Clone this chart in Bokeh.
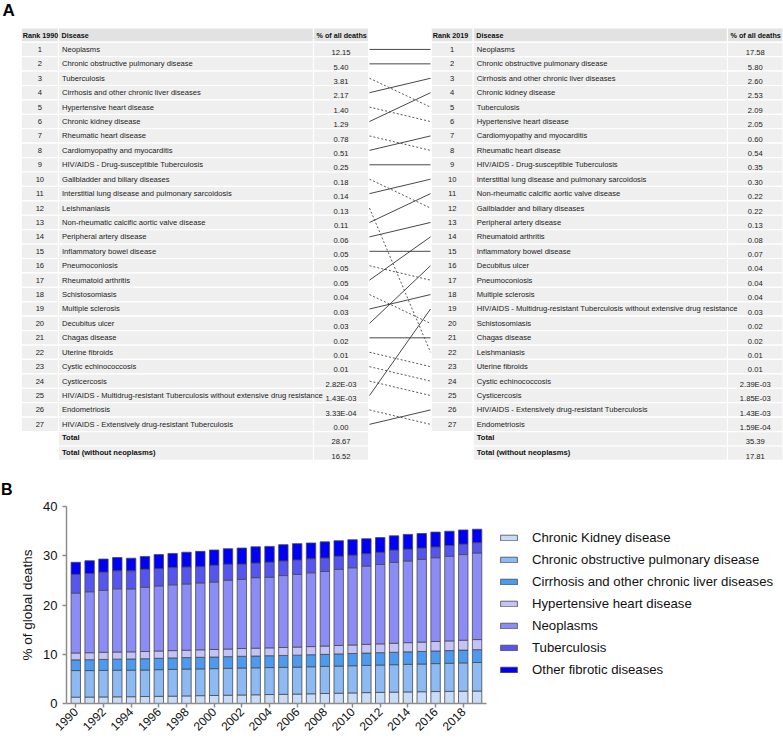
import math
from bokeh.plotting import figure
from bokeh.models import Range1d, ColumnDataSource, Legend, LegendItem, FixedTicker
from bokeh.core.properties import value
from bokeh.embed import file_html
from bokeh.resources import INLINE

FONT = "Liberation Sans"

# ------------------------------------------------------------------ Panel A data
header_1990 = ["Rank 1990", "Disease", "% of all deaths"]
header_2019 = ["Rank 2019", "Disease", "% of all deaths"]

diseases_1990 = [
    "Neoplasms",
    "Chronic obstructive pulmonary disease",
    "Tuberculosis",
    "Cirrhosis and other chronic liver diseases",
    "Hypertensive heart disease",
    "Chronic kidney disease",
    "Rheumatic heart disease",
    "Cardiomyopathy and myocarditis",
    "HIV/AIDS - Drug-susceptible Tuberculosis",
    "Gallbladder and biliary diseases",
    "Interstitial lung disease and pulmonary sarcoidosis",
    "Leishmaniasis",
    "Non-rheumatic calcific aortic valve disease",
    "Peripheral artery disease",
    "Inflammatory bowel disease",
    "Pneumoconiosis",
    "Rheumatoid arthritis",
    "Schistosomiasis",
    "Multiple sclerosis",
    "Decubitus ulcer",
    "Chagas disease",
    "Uterine fibroids",
    "Cystic echinococcosis",
    "Cysticercosis",
    "HIV/AIDS - Multidrug-resistant Tuberculosis without extensive drug resistance",
    "Endometriosis",
    "HIV/AIDS - Extensively drug-resistant Tuberculosis",
]
pct_1990 = ["12.15", "5.40", "3.81", "2.17", "1.40", "1.29", "0.78", "0.51", "0.25",
            "0.18", "0.14", "0.13", "0.11", "0.06", "0.05", "0.05", "0.05", "0.04",
            "0.03", "0.03", "0.02", "0.01", "0.01", "2.82E-03", "1.43E-03", "3.33E-04",
            "0.00"]

diseases_2019 = [
    "Neoplasms",
    "Chronic obstructive pulmonary disease",
    "Cirrhosis and other chronic liver diseases",
    "Chronic kidney disease",
    "Tuberculosis",
    "Hypertensive heart disease",
    "Cardiomyopathy and myocarditis",
    "Rheumatic heart disease",
    "HIV/AIDS - Drug-susceptible Tuberculosis",
    "Interstitial lung disease and pulmonary sarcoidosis",
    "Non-rheumatic calcific aortic valve disease",
    "Gallbladder and biliary diseases",
    "Peripheral artery disease",
    "Rheumatoid arthritis",
    "Inflammatory bowel disease",
    "Decubitus ulcer",
    "Pneumoconiosis",
    "Multiple sclerosis",
    "HIV/AIDS - Multidrug-resistant Tuberculosis without extensive drug resistance",
    "Schistosomiasis",
    "Chagas disease",
    "Leishmaniasis",
    "Uterine fibroids",
    "Cystic echinococcosis",
    "Cysticercosis",
    "HIV/AIDS - Extensively drug-resistant Tuberculosis",
    "Endometriosis",
]
pct_2019 = ["17.58", "5.80", "2.60", "2.53", "2.09", "2.05", "0.60", "0.54", "0.35",
            "0.30", "0.22", "0.22", "0.13", "0.08", "0.07", "0.04", "0.04", "0.04",
            "0.03", "0.02", "0.02", "0.01", "0.01", "2.39E-03", "1.85E-03", "1.43E-03",
            "1.59E-04"]

total_labels = ["Total", "Total (without neoplasms)"]
totals_1990 = ["28.67", "16.52"]
totals_2019 = ["35.39", "17.81"]

# ------------------------------------------------------------------ Panel B data
years = [1990, 1991, 1992, 1993, 1994, 1995, 1996, 1997, 1998, 1999,
         2000, 2001, 2002, 2003, 2004, 2005, 2006, 2007, 2008, 2009,
         2010, 2011, 2012, 2013, 2014, 2015, 2016, 2017, 2018, 2019]
year_ticks = [1990, 1992, 1994, 1996, 1998, 2000, 2002, 2004, 2006, 2008,
              2010, 2012, 2014, 2016, 2018]
y_ticks = [0, 10, 20, 30, 40]

ckd = [1.29, 1.31, 1.33, 1.36, 1.38, 1.42, 1.45, 1.49, 1.54, 1.59,
       1.63, 1.68, 1.73, 1.77, 1.82, 1.86, 1.91, 1.97, 2.03, 2.09,
       2.15, 2.21, 2.26, 2.31, 2.35, 2.39, 2.43, 2.46, 2.50, 2.53]
copd = [5.40, 5.38, 5.39, 5.40, 5.39, 5.38, 5.42, 5.44, 5.45, 5.44,
        5.45, 5.46, 5.48, 5.48, 5.48, 5.48, 5.48, 5.49, 5.50, 5.51,
        5.52, 5.53, 5.55, 5.57, 5.60, 5.63, 5.67, 5.71, 5.75, 5.80]
cirrhosis = [2.17, 2.20, 2.23, 2.25, 2.27, 2.29, 2.31, 2.32, 2.33, 2.35,
             2.36, 2.37, 2.38, 2.39, 2.40, 2.42, 2.43, 2.44, 2.45, 2.47,
             2.48, 2.50, 2.51, 2.52, 2.54, 2.55, 2.56, 2.57, 2.59, 2.60]
hypertensive = [1.40, 1.42, 1.45, 1.45, 1.45, 1.47, 1.48, 1.49, 1.50, 1.52,
                1.53, 1.55, 1.57, 1.59, 1.60, 1.62, 1.64, 1.66, 1.69, 1.71,
                1.73, 1.76, 1.79, 1.83, 1.87, 1.90, 1.93, 1.97, 2.01, 2.05]
neoplasms = [12.15, 12.38, 12.58, 12.83, 12.78, 13.05, 13.22, 13.36, 13.45, 13.58,
             13.70, 13.98, 14.05, 14.32, 14.34, 14.60, 14.75, 14.98, 15.13, 15.46,
             15.68, 15.92, 16.12, 16.42, 16.58, 16.80, 17.01, 17.20, 17.39, 17.58]
tuberculosis = [3.81, 3.70, 3.70, 3.65, 3.68, 3.65, 3.50, 3.50, 3.45, 3.31,
                3.40, 3.24, 3.10, 2.97, 3.06, 2.97, 2.95, 2.85, 2.75, 2.67,
                2.56, 2.50, 2.46, 2.50, 2.40, 2.30, 2.20, 2.17, 2.13, 2.09]
other_fibrotic = [2.45, 2.60, 2.65, 2.70, 2.55, 2.60, 2.85, 2.87, 3.00, 3.10,
                  3.10, 3.15, 3.25, 3.30, 3.20, 3.30, 3.30, 3.20, 3.27, 3.14,
                  3.14, 3.04, 3.00, 2.90, 3.00, 2.95, 3.00, 2.90, 2.87, 2.74]

series_keys = ["ckd", "copd", "cirrhosis", "hypertensive", "neoplasms", "tuberculosis", "other"]
series_labels = ["Chronic Kidney disease", "Chronic obstructive pulmonary disease",
                 "Cirrhosis and other chronic liver diseases", "Hypertensive heart disease",
                 "Neoplasms", "Tuberculosis", "Other fibrotic diseases"]
series_colors = ["#c8dcf8", "#8dbaf3", "#4d9bf0", "#c3c3f8", "#8c8cf6", "#5656ef", "#0000f5"]

# ------------------------------------------------------------------ Panel A figure
W = 783
HA = 499
pa = figure(width=W, height=HA, x_range=Range1d(0, W), y_range=Range1d(HA, 0),
            output_backend="svg", toolbar_location=None, min_border=0,
            x_axis_location=None, y_axis_location=None)
pa.outline_line_color = None
pa.grid.visible = False

ROW_H = 14.42
TOP = 27.3
TXT = "7.6px"
HDR = "7.2px"
TEXT_COL = "#222222"


def rtop(k):
    return TOP + k * ROW_H


def rmid(k):
    return TOP + (k + 0.5) * ROW_H


def draw_table(edges, header, names, vals, totals):
    x0, x1, x2, x3 = edges
    L, R, T, B, C = [], [], [], [], []
    for a, b in [(x0, x1), (x1, x2), (x2, x3)]:
        L.append(a); R.append(b); T.append(rtop(0)); B.append(rtop(1)); C.append("#e2e2e2")
    n = len(names)
    for i in range(n):
        k = i + 1
        for a, b in [(x0, x1), (x1, x2), (x2, x3)]:
            L.append(a); R.append(b); T.append(rtop(k)); B.append(rtop(k + 1)); C.append("#efefef")
    for j in range(len(totals)):
        k = n + 1 + j
        for a, b in [(x1, x2), (x2, x3)]:
            L.append(a); R.append(b); T.append(rtop(k)); B.append(rtop(k + 1)); C.append("#efefef")
    pa.quad(left=L, right=R, top=T, bottom=B, fill_color=C, line_color="white", line_width=1.2)

    pa.text(x=[x0 + 1.5, x1 + 3, x2 + 3], y=[rmid(0)] * 3, text=header,
            text_font=value(FONT), text_font_size=HDR, text_font_style="bold",
            text_baseline="middle", text_align="left", text_color="#111111")
    ks = [i + 1 for i in range(n)]
    pa.text(x=[(x0 + x1) / 2] * n, y=[rmid(k) for k in ks], text=[str(k) for k in ks],
            text_font=value(FONT), text_font_size=TXT, text_baseline="middle",
            text_align="center", text_color=TEXT_COL)
    pa.text(x=[x1 + 3.5] * n, y=[rmid(k) for k in ks], text=names,
            text_font=value(FONT), text_font_size=TXT, text_baseline="middle",
            text_align="left", text_color=TEXT_COL)
    pa.text(x=[(x2 + x3) / 2] * n, y=[rmid(k) + 3.2 for k in ks], text=vals,
            text_font=value(FONT), text_font_size=TXT, text_baseline="middle",
            text_align="center", text_color=TEXT_COL)
    tk = [n + 1 + j for j in range(len(totals))]
    pa.text(x=[x1 + 3.5] * len(tk), y=[rmid(k) - 0.8 for k in tk], text=total_labels,
            text_font=value(FONT), text_font_size=TXT, text_font_style="bold",
            text_baseline="middle", text_align="left", text_color="#111111")
    pa.text(x=[(x2 + x3) / 2] * len(tk), y=[rmid(k) + 3.2 for k in tk], text=totals,
            text_font=value(FONT), text_font_size=TXT, text_baseline="middle",
            text_align="center", text_color=TEXT_COL)


LEFT_EDGES = (20.7, 58.0, 313.0, 368.0)
RIGHT_EDGES = (430.7, 472.7, 727.0, 782.5)
draw_table(LEFT_EDGES, header_1990, diseases_1990, pct_1990, totals_1990)
draw_table(RIGHT_EDGES, header_2019, diseases_2019, pct_2019, totals_2019)

sx0, sy0, sx1, sy1 = [], [], [], []
dx0, dy0, dx1, dy1 = [], [], [], []
for i, name in enumerate(diseases_1990):
    j = diseases_2019.index(name)
    if j <= i:
        sx0.append(369); sy0.append(rmid(i + 1)); sx1.append(430); sy1.append(rmid(j + 1))
    else:
        dx0.append(369); dy0.append(rmid(i + 1)); dx1.append(430); dy1.append(rmid(j + 1))
pa.segment(x0=sx0, y0=sy0, x1=sx1, y1=sy1, line_color="#333333", line_width=0.9)
pa.segment(x0=dx0, y0=dy0, x1=dx1, y1=dy1, line_color="#444444", line_width=0.9,
           line_dash="2 2")

pa.text(x=[2], y=[0], text=["A"], text_font=value(FONT), text_font_size="17px",
        text_font_style="bold", text_baseline="top", text_align="left", text_color="#000000")
pa.text(x=[0.5], y=[480], text=["B"], text_font=value(FONT), text_font_size="16px",
        text_font_style="bold", text_baseline="top", text_align="left",
        text_color="#000000")

# ------------------------------------------------------------------ Panel B figure
HB = 741 - HA
BL, BT, BB = 66, 7, 38
X0, X1 = 1989.33, 2019.68          # visible year span of the bar area
BAR_AREA_W = 420                    # pixels of the bar area
frame_w = W - BL
x_end = X0 + (X1 - X0) * frame_w / BAR_AREA_W

src = ColumnDataSource(dict(year=years, ckd=ckd, copd=copd, cirrhosis=cirrhosis,
                            hypertensive=hypertensive, neoplasms=neoplasms,
                            tuberculosis=tuberculosis, other=other_fibrotic))

pb = figure(width=W, height=HB, x_range=Range1d(X0, x_end), y_range=Range1d(0, 40),
            output_backend="svg", toolbar_location=None,
            min_border_left=BL, min_border_right=0, min_border_top=BT, min_border_bottom=BB)
pb.outline_line_color = None
pb.grid.visible = False

rs = pb.vbar_stack(series_keys, x="year", width=0.68, color=series_colors, source=src,
                   line_color="#4a4a4a", line_width=0.8)

for ax in (pb.xaxis, pb.yaxis):
    ax.axis_line_color = "#8c8c8c"
    ax.axis_line_width = 1.5
    ax.major_tick_line_color = "#8c8c8c"
    ax.major_tick_line_width = 1.5
    ax.major_tick_in = 0
    ax.major_tick_out = 4
    ax.minor_tick_line_color = None
    ax.major_label_text_font = FONT
    ax.major_label_text_color = "#111111"

pb.xaxis.bounds = (X0, X1)
pb.yaxis.ticker = FixedTicker(ticks=y_ticks)
pb.yaxis.major_label_text_font_size = "13px"
pb.yaxis.axis_label = "% of global deaths"
pb.yaxis.axis_label_text_font = FONT
pb.yaxis.axis_label_text_font_size = "13.5px"
pb.yaxis.axis_label_text_font_style = "normal"
pb.yaxis.axis_label_text_color = "#111111"

pb.xaxis.ticker = FixedTicker(ticks=year_ticks)
pb.xaxis.major_label_text_font_size = "12px"
pb.xaxis.major_label_orientation = math.pi / 4
pb.xaxis.major_label_standoff = 2

legend = Legend(items=[LegendItem(label=lab, renderers=[r]) for lab, r in zip(series_labels, rs)],
                location=(432, 24), orientation="vertical",
                glyph_width=21, glyph_height=7, label_height=20, spacing=2,
                label_standoff=13, padding=3, margin=0,
                label_text_font=FONT, label_text_font_size="13.2px", label_text_color="#111111",
                border_line_color=None, background_fill_alpha=0)
pb.add_layout(legend)

open("out.html", "w").write(file_html([pa, pb], INLINE))
